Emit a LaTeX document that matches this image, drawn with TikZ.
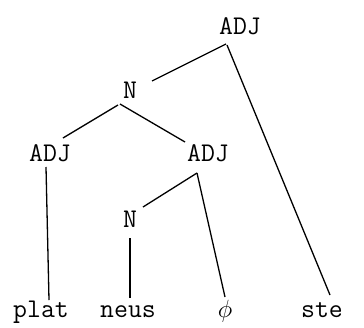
\documentclass[tikz,border=0pt]{standalone}
\usetikzlibrary{positioning}

\begin{document}
\begin{tikzpicture}[
  x=1pt, y=-1pt,
  lbl/.style = {anchor=base, inner sep=0pt, font=\ttfamily\fontsize{27}{30}\selectfont},
  branch/.style = {line width=1.3pt}
  ]
	\useasboundingbox (0,0) rectangle (364,327);

	\coordinate (@T) at (240,34);
	\coordinate (@N1) at (130,98);
	\coordinate (@L) at (50,161);
	\coordinate (@R) at (208,161);
	\coordinate (@N2) at (130,227);

	\node[lbl] (adjT) at (@T) {ADJ};
	\node[lbl] (nA) at (@N1) {N};
	\node[lbl] (adjL) at (@L) {ADJ};
	\node[lbl] (adjR) at (@R) {ADJ};
	\node[lbl] (nB) at (@N2) {N};

	\node[lbl] (plat) at (41,317) {plat};
	\node[lbl] (neus) at (128,317) {neus};
	\node[lbl] (nul) at (225,317) {$\phi$};
	\node[lbl] (ste) at (322,317) {ste};

	\draw[branch] ([shift={(-14,10)}]adjT.base) -- ([shift={(22,-17)}]nA.base);
	\draw[branch] ([shift={(-13,11)}]adjT.base) -- ([shift={(8,-22)}]ste.base);
	\draw[branch] ([shift={(-12,7)}]nA.base) -- ([shift={(13,-23)}]adjL.base);
	\draw[branch] ([shift={(-10,6)}]nA.base) -- ([shift={(-23,-19)}]adjR.base);
	\draw[branch] ([shift={(-4,6)}]adjL.base) -- ([shift={(8,-17)}]plat.base);
	\draw[branch] ([shift={(-11,12)}]adjR.base) -- ([shift={(13,-20)}]nB.base);
	\draw[branch] ([shift={(-11,12)}]adjR.base) -- ([shift={(0,-20)}]nul.base);
	\draw[branch] ([shift={(0,11)}]nB.base) -- ([shift={(2,-19)}]neus.base);

\end{tikzpicture}
\end{document}
